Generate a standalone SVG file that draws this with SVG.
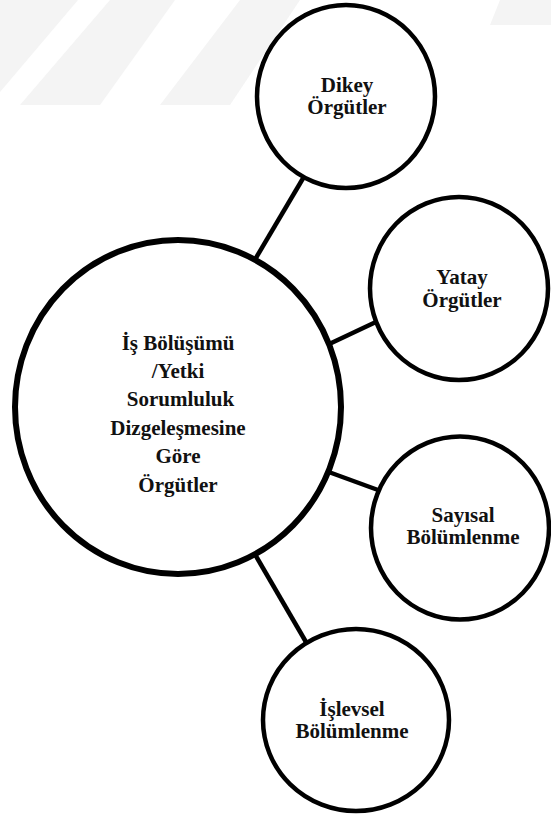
<svg xmlns="http://www.w3.org/2000/svg" width="551" height="817" viewBox="0 0 551 817">
  <style>
    .bg { fill: #ffffff; }
    .mark { fill: #f4f4f4; }
    .link { stroke: #000000; stroke-width: 4.5; stroke-linecap: butt; fill: none; }
    .hub { fill: #ffffff; stroke: #000000; stroke-width: 6; }
    .leaf { fill: #ffffff; stroke: #000000; stroke-width: 4.5; }
    .label { font-family: "Liberation Serif", "Times New Roman", serif; font-weight: bold; font-size: 21px; fill: #111111; text-anchor: middle; }
  </style>

  <rect class="bg" x="0" y="0" width="551" height="817"/>

  <!-- faint background stripes -->
  <g id="backdrop">
    <polygon class="mark" points="0,0 78,0 0,92"/>
    <polygon class="mark" points="110,0 175,0 100,105 20,105"/>
    <polygon class="mark" points="240,0 300,0 230,105 160,105"/>
    <polygon class="mark" points="500,0 551,0 551,25 490,25"/>
  </g>

  <!-- connectors from the hub to each branch -->
  <g id="connectors">
    <line class="link" x1="305" y1="175" x2="250" y2="268"/>
    <line class="link" x1="325" y1="346" x2="378" y2="321"/>
    <line class="link" x1="326" y1="471" x2="378" y2="490"/>
    <line class="link" x1="253" y1="551" x2="306" y2="642"/>
  </g>

  <g id="hub">
    <ellipse class="hub" cx="178" cy="407" rx="163" ry="167"/>
    <text class="label" x="178" y="350">İş Bölüşümü</text>
    <text class="label" x="178" y="378">/Yetki</text>
    <text class="label" x="180.5" y="406">Sorumluluk</text>
    <text class="label" x="178" y="435">Dizgeleşmesine</text>
    <text class="label" x="178" y="463">Göre</text>
    <text class="label" x="178" y="491.5">Örgütler</text>
  </g>

  <g id="dikey">
    <ellipse class="leaf" cx="346" cy="96.5" rx="89" ry="91.5"/>
    <text class="label" x="347" y="92">Dikey</text>
    <text class="label" x="347" y="114">Örgütler</text>
  </g>

  <g id="yatay">
    <ellipse class="leaf" cx="459" cy="288.5" rx="89" ry="91.5"/>
    <text class="label" x="462" y="284">Yatay</text>
    <text class="label" x="462" y="307">Örgütler</text>
  </g>

  <g id="sayisal">
    <ellipse class="leaf" cx="460" cy="528" rx="89" ry="91.5"/>
    <text class="label" x="463" y="522">Sayısal</text>
    <text class="label" x="463" y="544">Bölümlenme</text>
  </g>

  <g id="islevsel">
    <ellipse class="leaf" cx="356" cy="720" rx="93" ry="91"/>
    <text class="label" x="352" y="716">İşlevsel</text>
    <text class="label" x="352" y="738">Bölümlenme</text>
  </g>
</svg>
